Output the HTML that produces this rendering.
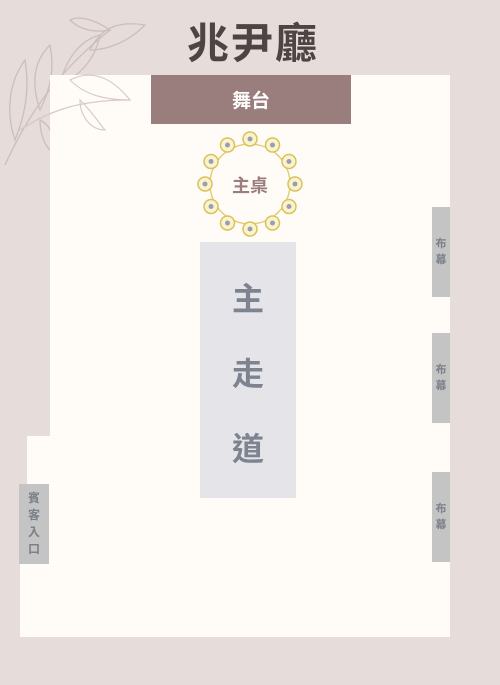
<!DOCTYPE html>
<html><head><meta charset="utf-8"><style>
body{margin:0;width:500px;height:685px;background:#e6dcd9;position:relative;overflow:hidden;font-family:"Liberation Sans","Noto Sans CJK TC",sans-serif}
div{position:absolute;box-sizing:border-box}
.c{display:flex;align-items:center;justify-content:center;text-align:center}
.cur{left:432px;width:18px;height:90px;background:#c4c4c4;color:#7a7f88;font-size:11px;font-weight:bold;line-height:16px}
</style></head><body>
<svg style="position:absolute;left:0;top:0" width="160" height="170">
<g fill="none" stroke="#cdbdc0" stroke-width="1.3">
<path d="M5 165 C30 110 60 70 110 30"/><path d="M20 130 C50 110 80 100 130 100"/>
<path d="M110 30 C95 20 80 15 70 20 C80 30 95 33 110 30Z"/>
<path d="M90 50 C100 30 115 20 145 25 C130 40 110 50 90 50Z"/>
<path d="M60 85 C65 60 80 40 100 35 C95 60 80 75 60 85Z"/>
<path d="M40 110 C30 80 35 60 50 45 C55 70 50 90 40 110Z"/>
<path d="M70 80 C90 70 110 75 130 100 C105 100 85 95 70 80Z"/>
<path d="M80 100 C95 115 100 125 105 130 C90 130 80 115 80 100Z"/>
<path d="M15 140 C5 110 10 80 25 60 C30 90 25 115 15 140Z"/>
<path d="M40 120 C40 135 45 145 50 150 C55 135 50 125 40 120Z"/>
</g></svg>
<div class="c" style="left:148px;top:12px;width:210px;height:56px;font-size:42px;font-weight:bold;color:#4e4444;letter-spacing:2px">兆尹廳</div>
<div style="left:50px;top:75px;width:400px;height:562px;background:#fffcf8"></div>
<div style="left:27px;top:436px;width:30px;height:201px;background:#fffcf8"></div>
<div style="left:20px;top:563px;width:30px;height:74px;background:#fffcf8"></div>
<svg style="position:absolute;left:0;top:0" width="160" height="170">
<g fill="none" stroke="#d8cacc" stroke-width="1.2"><path d="M70 80 C90 70 110 75 130 100 C105 100 85 95 70 80Z"/><path d="M80 100 C95 115 100 125 105 130 C90 130 80 115 80 100Z"/><path d="M20 130 C50 110 80 100 130 100"/></g></svg>
<div class="c" style="left:151px;top:75px;width:200px;height:49px;background:#9a7d7d;color:#fff;font-size:19px;font-weight:bold">舞台</div>
<svg style="position:absolute;left:195px;top:129px" width="110" height="110">
<circle cx="55" cy="55" r="40" fill="none" stroke="#e0d07a" stroke-width="1.5"/>
<g id="fl"></g></svg>
<div class="c" style="left:210px;top:170px;width:80px;height:30px;font-size:18px;font-weight:bold;color:#9a7d7d">主桌</div>
<div class="c" style="left:200px;top:242px;width:96px;height:256px;background:#e4e4e9;color:#7d8490;font-size:32px;font-weight:bold;flex-direction:column;line-height:75px;padding-top:8px">主<br>走<br>道</div>
<div class="cur c" style="top:207px">布<br>幕</div>
<div class="cur c" style="top:333px">布<br>幕</div>
<div class="cur c" style="top:472px">布<br>幕</div>
<div class="c" style="left:19px;top:484px;width:30px;height:80px;background:#c4c4c4;color:#7a7f88;font-size:12px;font-weight:bold;line-height:17px">賓<br>客<br>入<br>口</div>
<script>
var g=document.getElementById('fl');
for(var i=0;i<12;i++){var a=i*Math.PI/6,x=55+45*Math.cos(a),y=55+45*Math.sin(a);
var c=document.createElementNS('http://www.w3.org/2000/svg','circle');


c.setAttribute('cx',x);c.setAttribute('cy',y);c.setAttribute('r',7);c.setAttribute('fill','#fbf3d0');c.setAttribute('stroke','#d8c25a');c.setAttribute('stroke-width','1.5');g.appendChild(c);
var d=document.createElementNS('http://www.w3.org/2000/svg','circle');


d.setAttribute('cx',x);d.setAttribute('cy',y);d.setAttribute('r',2.5);d.setAttribute('fill','#9aa0a8');g.appendChild(d);}
</script>
</body></html>
